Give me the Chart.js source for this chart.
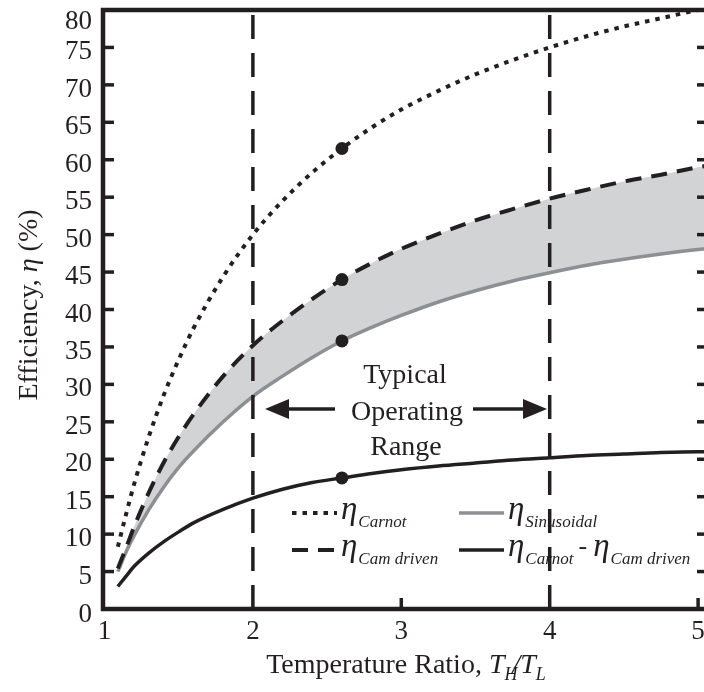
<!DOCTYPE html>
<html>
<head>
<meta charset="utf-8">
<script src="https://cdn.jsdelivr.net/npm/chart.js@4.4.1/dist/chart.umd.min.js"></script>
<style>
  html, body { margin: 0; padding: 0; background: #fff; overflow: hidden; }
  #wrap { width: 720px; height: 692px; }
</style>
</head>
<body>
<div id="wrap"><canvas id="effChart"></canvas></div>
<script>
// temperature ratio T_H/T_L
const ratios = [1.09, 1.15, 1.2, 1.3, 1.4, 1.5, 1.6, 1.8, 2.0, 2.2, 2.4, 2.6, 2.8, 3.0, 3.25, 3.5, 3.75, 4.0, 4.25, 4.5, 4.75, 5.0, 5.06];
// efficiencies in %
const etaCarnot = [8.3, 13.0, 16.7, 23.1, 28.6, 33.3, 37.5, 44.4, 50.0, 54.5, 58.3, 61.5, 64.3, 66.7, 69.2, 71.4, 73.3, 75.0, 76.5, 77.8, 78.9, 80.0, 80.2];
const etaCamDriven = [5.4, 8.4, 11.0, 15.6, 19.6, 23.0, 26.0, 31.1, 35.2, 38.5, 41.4, 44.0, 46.2, 48.1, 50.1, 51.9, 53.4, 54.8, 56.0, 57.1, 58.0, 59.0, 59.2];
const etaSinusoidal = [5.0, 7.8, 9.8, 13.3, 16.3, 18.9, 21.1, 25.0, 28.4, 31.1, 33.6, 35.8, 37.6, 39.2, 41.0, 42.5, 43.8, 44.9, 45.9, 46.7, 47.4, 48.0, 48.1];
const etaDifference = [3.0, 4.5, 5.7, 7.5, 9.0, 10.3, 11.5, 13.3, 14.8, 16.0, 16.9, 17.5, 18.1, 18.6, 19.1, 19.5, 19.9, 20.2, 20.5, 20.7, 20.9, 21.0, 21.0];
const markedRatio = 2.6;
const rangeBounds = [2, 4];
const xTicks = [1, 2, 3, 4, 5];
const yTicks = [0, 5, 10, 15, 20, 25, 30, 35, 40, 45, 50, 55, 60, 65, 70, 75, 80];

const ink = '#231f20';
const grayLine = '#8d8f92';
const bandFill = '#d1d3d4';
const serif = '"Liberation Serif", "Times New Roman", serif';

const toPoints = vals => vals.map((v, i) => ({ x: ratios[i], y: v }));
const markRadius = c => (c.raw && c.raw.x === markedRatio ? 6.5 : 0);

function curve(data, color, width, dash) {
    return {
        data: toPoints(data),
        borderColor: color,
        borderWidth: width,
        borderDash: dash,
        borderCapStyle: 'butt',
        cubicInterpolationMode: 'monotone',
        pointRadius: markRadius,
        pointBackgroundColor: ink,
        pointBorderWidth: 0,
        fill: false,
    };
}

function vline(v) {
    return {
        data: [{ x: v, y: 0 }, { x: v, y: 80 }],
        borderColor: ink,
        borderWidth: 3.5,
        borderDash: [24, 14],
        borderCapStyle: 'butt',
        pointRadius: 0,
        fill: false,
    };
}

// draws a run of text pieces on one baseline, returns end x
function drawRuns(ctx, x, y, runs) {
    runs.forEach(r => {
        ctx.font = (r.italic ? 'italic ' : '') + r.size + 'px ' + serif;
        ctx.fillText(r.text, x, y + (r.dy || 0));
        x += ctx.measureText(r.text).width + (r.gap || 0);
    });
    return x;
}

function runsWidth(ctx, runs) {
    let w = 0;
    runs.forEach(r => {
        ctx.font = (r.italic ? 'italic ' : '') + r.size + 'px ' + serif;
        w += ctx.measureText(r.text).width + (r.gap || 0);
    });
    return w;
}

function seg(ctx, x1, y1, x2, y2) {
    ctx.beginPath();
    ctx.moveTo(x1, y1);
    ctx.lineTo(x2, y2);
    ctx.stroke();
}

function arrow(ctx, from, tip, y) {
    const dir = Math.sign(tip - from);
    ctx.lineWidth = 3.5;
    seg(ctx, from, y, tip - dir * 18, y);
    ctx.beginPath();
    ctx.moveTo(tip, y);
    ctx.lineTo(tip - dir * 24, y - 10);
    ctx.lineTo(tip - dir * 24, y + 10);
    ctx.closePath();
    ctx.fill();
}

const decorPlugin = {
    id: 'decor',
    afterDatasetsDraw(chart) {
        const ctx = chart.ctx;
        ctx.save();
        ctx.fillStyle = ink;
        ctx.strokeStyle = ink;
        ctx.textBaseline = 'alphabetic';

        // operating range note
        ctx.font = '28px ' + serif;
        ctx.textAlign = 'center';
        ctx.fillText('Typical', 405, 383);
        ctx.fillText('Operating', 407, 420);
        ctx.fillText('Range', 406, 455);
        arrow(ctx, 335, 265, 409);
        arrow(ctx, 473, 547, 409);

        // legend
        ctx.textAlign = 'left';
        const legendRows = [
            { y: 513, sx: 292, color: ink, dash: [4.5, 6], width: 4, label: ['Carnot'] },
            { y: 550, sx: 292, color: ink, dash: [16, 10], width: 4, label: ['Cam driven'] },
            { y: 513, sx: 459, color: grayLine, dash: [], width: 3.5, label: ['Sinusoidal'] },
            { y: 550, sx: 459, color: ink, dash: [], width: 3.5, label: ['Carnot', 'Cam driven'] },
        ];
        legendRows.forEach(row => {
            ctx.lineWidth = row.width;
            ctx.strokeStyle = row.color;
            ctx.setLineDash(row.dash);
            seg(ctx, row.sx, row.y, row.sx + 45, row.y);
            ctx.setLineDash([]);
            let x = row.sx + 49;
            row.label.forEach((sub, i) => {
                if (i > 0) x = drawRuns(ctx, x + 5, row.y + 4, [{ text: '-', size: 26, gap: 6 }]);
                x = drawRuns(ctx, x, row.y + 6, [
                    { text: 'η', size: 33, italic: true, gap: 1 },
                    { text: sub, size: 17, italic: true, dy: 8 },
                ]);
            });
        });
        ctx.restore();
    },
    afterDraw(chart) {
        const { ctx, chartArea: a, scales } = chart;
        const y = scales.y, x = scales.x;
        ctx.save();
        ctx.strokeStyle = ink;
        ctx.fillStyle = ink;

        // inward ticks
        ctx.lineWidth = 3.5;
        yTicks.forEach(v => {
            if (v === 0 || v === 80) return;
            const py = y.getPixelForValue(v);
            seg(ctx, a.left, py, a.left + 11, py);
            seg(ctx, a.right - 10, py, a.right, py);
        });
        xTicks.forEach(v => {
            if (v === 1 || rangeBounds.includes(v)) return;
            const px = x.getPixelForValue(v);
            seg(ctx, px, a.bottom, px, a.bottom - 11);
        });

        // frame
        ctx.lineWidth = 4.5;
        ctx.beginPath();
        ctx.moveTo(a.right, a.top);
        ctx.lineTo(a.left, a.top);
        ctx.lineTo(a.left, a.bottom);
        ctx.lineTo(a.right, a.bottom);
        ctx.closePath();
        ctx.stroke();

        // y tick labels, nudged down like the original (top one kept inside)
        ctx.font = '27px ' + serif;
        ctx.textAlign = 'right';
        ctx.textBaseline = 'alphabetic';
        yTicks.forEach(v => {
            const py = y.getPixelForValue(v);
            const shift = v === 80 ? 10 : (v === 0 ? 4 : 3);
            ctx.fillText(String(v), 92, py + shift + 9);
        });

        // axis titles
        ctx.textAlign = 'left';
        const xt = [
            { text: 'Temperature Ratio, ', size: 28 },
            { text: 'T', size: 28, italic: true },
            { text: 'H', size: 18, italic: true, dy: 7, gap: -5 },
            { text: '/', size: 28, italic: true },
            { text: 'T', size: 28, italic: true },
            { text: 'L', size: 18, italic: true, dy: 7 },
        ];
        drawRuns(ctx, 406 - runsWidth(ctx, xt) / 2, 673, xt);

        const yt = [
            { text: 'Efficiency, ', size: 28 },
            { text: 'η', size: 28, italic: true },
            { text: ' (%)', size: 28 },
        ];
        ctx.translate(37, 305);
        ctx.rotate(-Math.PI / 2);
        drawRuns(ctx, -runsWidth(ctx, yt) / 2, 0, yt);
        ctx.restore();
    },
};

new Chart(document.getElementById('effChart'), {
    type: 'line',
    data: {
        datasets: [
            vline(rangeBounds[0]),
            vline(rangeBounds[1]),
            curve(etaCarnot, ink, 4, [4.5, 6]),
            curve(etaCamDriven, ink, 4, [16, 10]),
            Object.assign(curve(etaSinusoidal, grayLine, 3.5, []), { fill: { target: 3 }, backgroundColor: bandFill }),
            curve(etaDifference, ink, 3.5, []),
        ],
    },
    options: {
        responsive: true,
        maintainAspectRatio: false,
        animation: false,
        events: [],
        layout: { padding: { top: 10, right: 13, left: 0, bottom: 0 } },
        plugins: { legend: { display: false }, tooltip: { enabled: false } },
        scales: {
            x: {
                type: 'linear',
                min: 0.99,
                max: 5.06,
                grid: { display: false, drawTicks: false },
                border: { display: false },
                afterBuildTicks: s => { s.ticks = xTicks.map(v => ({ value: v })); },
                afterFit: s => { s.height = 83; s.paddingLeft = 0; s.paddingRight = 0; },
                ticks: { color: ink, font: { family: serif, size: 27 }, padding: 7, maxRotation: 0 },
            },
            y: {
                min: 0,
                max: 80,
                grid: { display: false, drawTicks: false },
                border: { display: false },
                afterBuildTicks: s => { s.ticks = yTicks.map(v => ({ value: v })); },
                afterFit: s => { s.width = 103; s.paddingTop = 0; s.paddingBottom = 0; },
                ticks: { display: false },
            },
        },
    },
    plugins: [decorPlugin],
});
</script>
</body>
</html>
